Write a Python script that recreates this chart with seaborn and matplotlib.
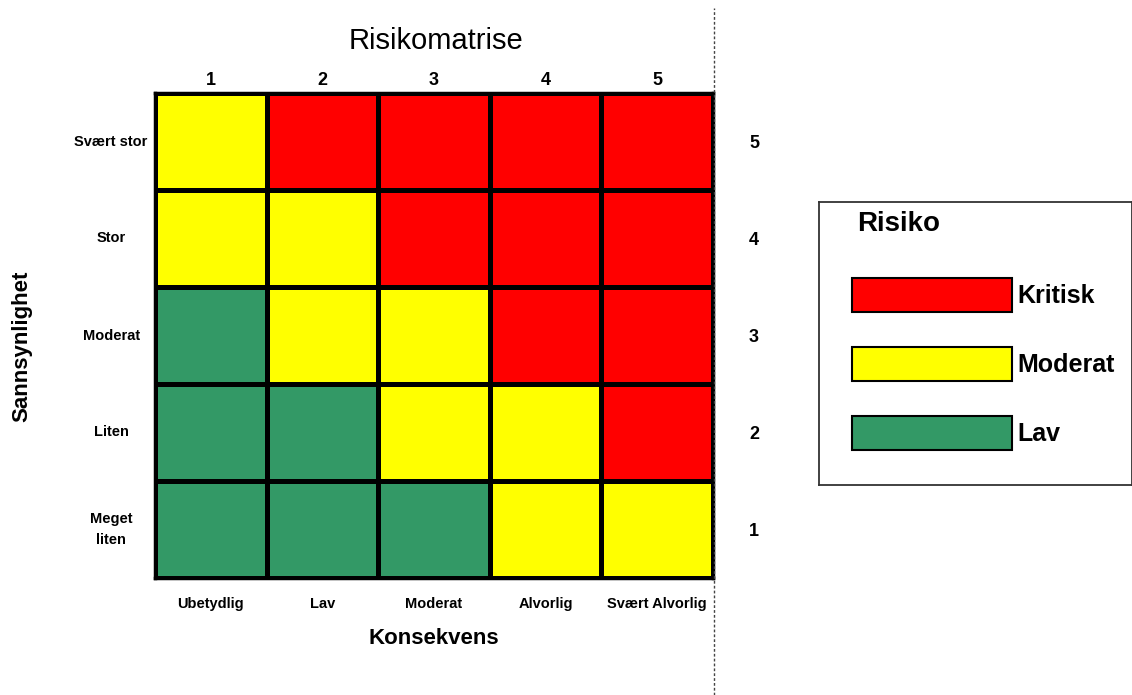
import numpy as np
import pandas as pd
import matplotlib
matplotlib.use("Agg")
import matplotlib.pyplot as plt
import seaborn as sns
from matplotlib.colors import ListedColormap
from matplotlib.patches import Rectangle
from matplotlib.lines import Line2D

# Data
konsekvens = ["Ubetydlig", "Lav", "Moderat", "Alvorlig", "Svært Alvorlig"]
konsekvens_nr = ["1", "2", "3", "4", "5"]
sannsynlighet = ["Svært stor", "Stor", "Moderat", "Liten", "Meget\nliten"]
sannsynlighet_nr = ["5", "4", "3", "2", "1"]

# risk level per cell: 0 = Lav, 1 = Moderat, 2 = Kritisk (rows top -> bottom)
risiko = [
    [1, 2, 2, 2, 2],
    [1, 1, 2, 2, 2],
    [0, 1, 1, 2, 2],
    [0, 0, 1, 1, 2],
    [0, 0, 0, 1, 1],
]
nivaa = ["Kritisk", "Moderat", "Lav"]
farger = {"Lav": "#339966", "Moderat": "#FFFF00", "Kritisk": "#FF0000"}

sns.set_theme(style="white")
plt.rcParams["font.family"] = ["Liberation Sans", "DejaVu Sans"]
plt.rcParams.update({"text.color": "black", "axes.labelcolor": "black",
                     "xtick.color": "black", "ytick.color": "black"})

df = pd.DataFrame(risiko, index=sannsynlighet, columns=konsekvens)
cmap = ListedColormap([farger["Lav"], farger["Moderat"], farger["Kritisk"]])

fig = plt.figure(figsize=(11.32, 6.95), dpi=100)
ax = fig.add_axes([155 / 1132, 1 - 578 / 695, 558 / 1132, 485 / 695])
sns.heatmap(df, ax=ax, cmap=cmap, vmin=-0.5, vmax=2.5, cbar=False,
            linewidths=2.5, linecolor="black")
for s in ax.spines.values():
    s.set_visible(True)
    s.set_linewidth(2.5)
    s.set_color("black")

ax.tick_params(axis="both", length=0)
ax.tick_params(axis="x", pad=14)
ax.set_xticklabels(konsekvens, fontsize=10.5, fontweight="bold", rotation=0)
ax.set_yticklabels(sannsynlighet, fontsize=10.5, fontweight="bold", rotation=0,
                   ha="center", multialignment="center", linespacing=1.6)
for lbl in ax.get_yticklabels():
    lbl.set_x(-0.07)

top = ax.secondary_xaxis("top")
top.set_xticks(np.arange(len(konsekvens_nr)) + 0.5, konsekvens_nr,
               fontsize=13, fontweight="bold")
top.tick_params(length=0, pad=3)
top.spines["top"].set_visible(False)

right = ax.secondary_yaxis("right")
right.set_yticks(np.arange(len(sannsynlighet_nr)) + 0.5, sannsynlighet_nr,
                 fontsize=13, fontweight="bold")
right.tick_params(length=0, pad=26)
right.spines["right"].set_visible(False)

ax.set_xlabel("Konsekvens", fontsize=16, fontweight="bold", labelpad=12)
ax.set_ylabel("")
fig.text(22 / 1132, 1 - 346 / 695, "Sannsynlighet", rotation=90, fontsize=16,
         fontweight="bold", ha="center", va="center")
fig.text(436 / 1132, 1 - 41 / 695, "Risikomatrise", fontsize=21,
         ha="center", va="center")

# dashed separator
fig.add_artist(Line2D([714 / 1132, 714 / 1132], [0, 1 - 8 / 695],
                      transform=fig.transFigure, color="#444444",
                      linestyle=(0, (2, 1.5)), linewidth=1))

# legend box
lax = fig.add_axes([819 / 1132, 1 - 485 / 695, 313 / 1132, 283 / 695])
lax.set_xlim(0, 313)
lax.set_ylim(283, 0)
lax.set_xticks([])
lax.set_yticks([])
for s in lax.spines.values():
    s.set_visible(True)
    s.set_color("#333333")
    s.set_linewidth(1.3)
lax.text(38, 22, "Risiko", fontsize=20, fontweight="bold", va="center")
for i, navn in enumerate(nivaa):
    y0 = 76 + i * 69
    lax.add_patch(Rectangle((33, y0), 160, 34, facecolor=farger[navn],
                            edgecolor="black", linewidth=1.5))
    lax.text(198, y0 + 18, navn, fontsize=18, fontweight="bold", va="center")

fig.savefig("out.png", dpi=100)
